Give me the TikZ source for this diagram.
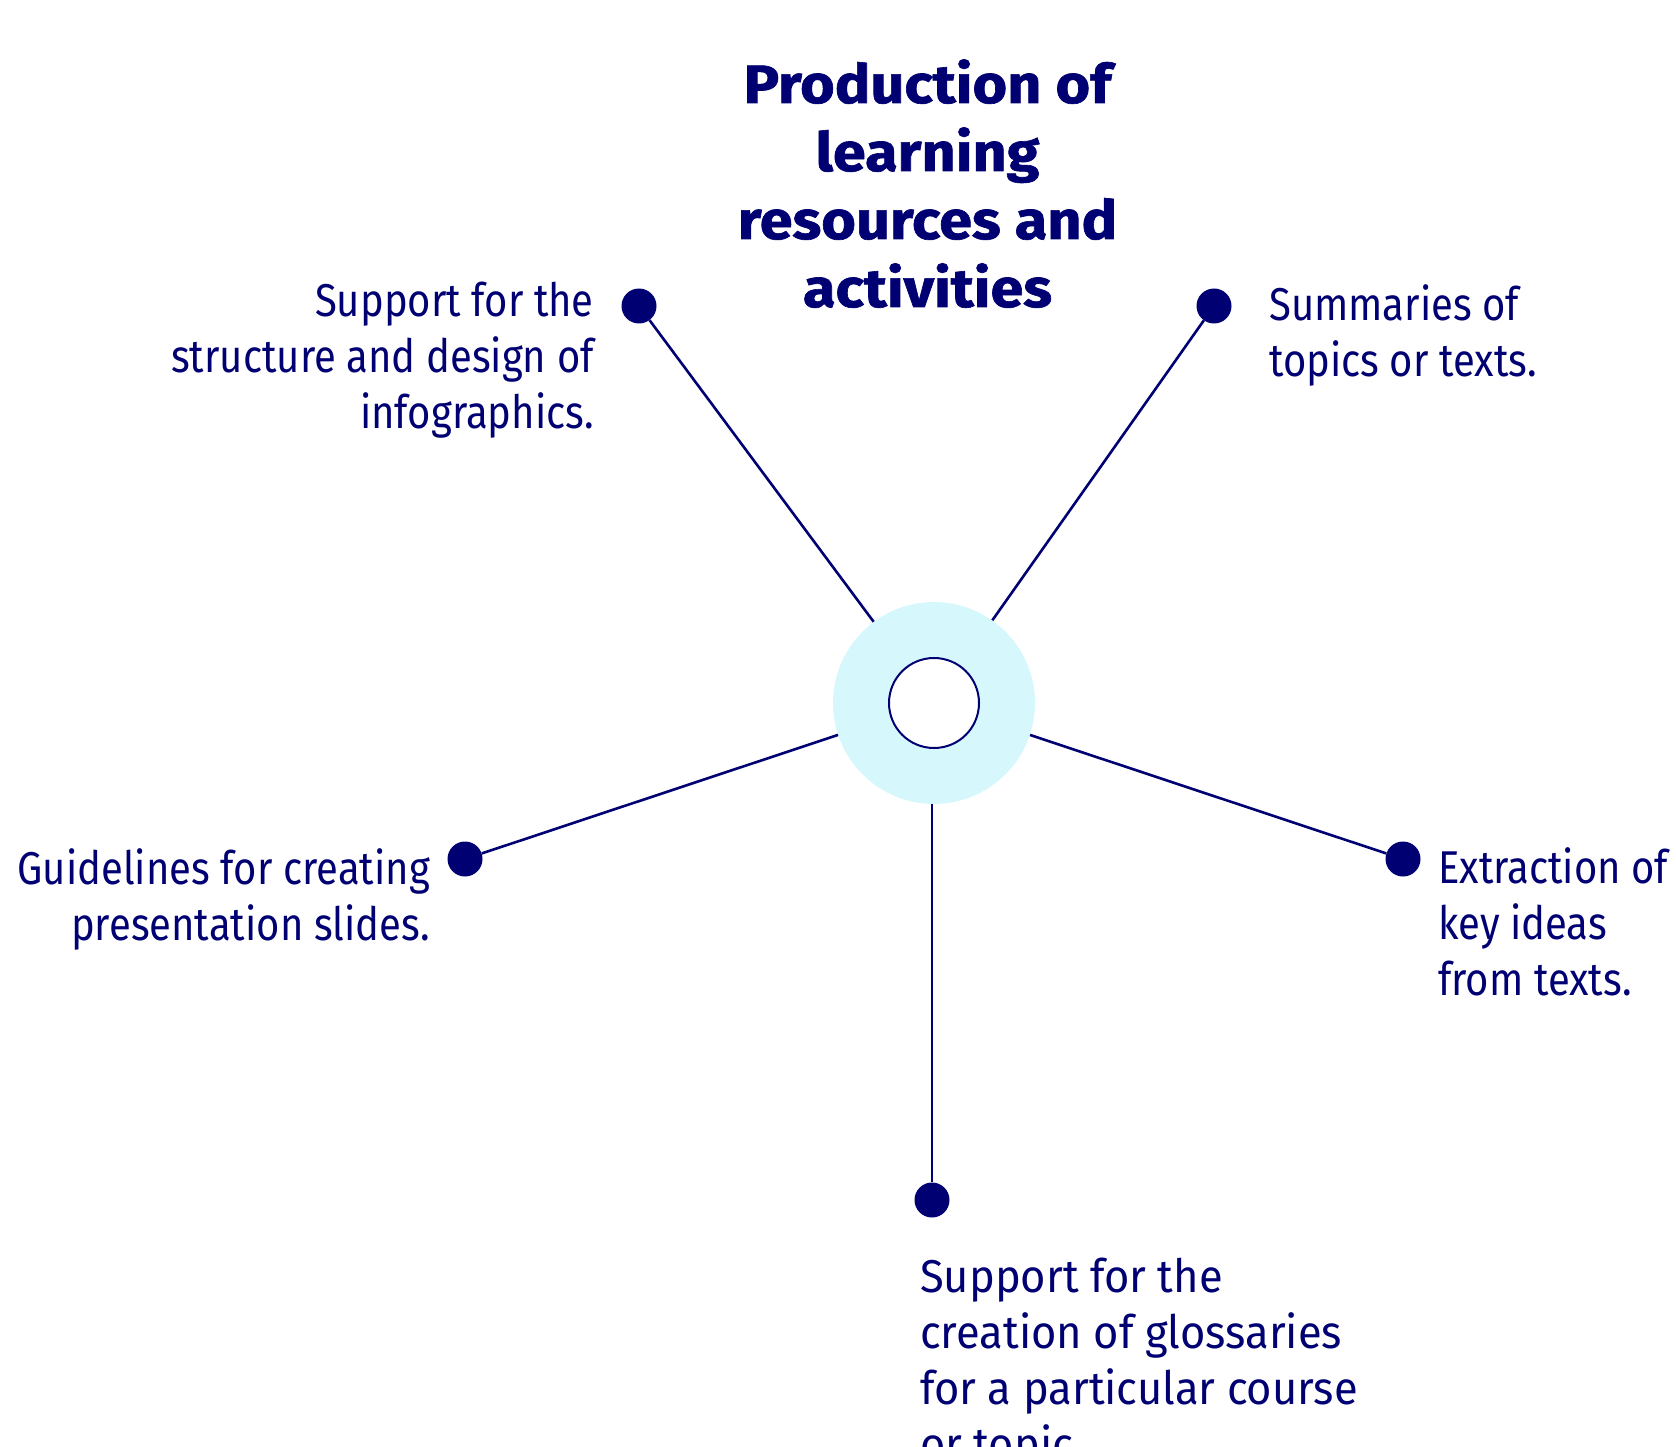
\documentclass[tikz,border=0pt]{standalone}
\usepackage{fontspec}
\setmainfont{Fira Sans}
\newfontfamily\narrowfont[FakeStretch=0.87]{Fira Sans}
\newfontfamily\widefont[FakeStretch=0.945]{Fira Sans}
\newfontfamily\titlefont[FakeStretch=1.1, FakeBold=1.2]{Fira Sans Bold}
\definecolor{navy}{RGB}{0,0,115}
\definecolor{lightcyan}{RGB}{214,248,253}
\begin{document}
\begin{tikzpicture}[x=1pt, y=-1pt]
    \tikzstyle{dot}=[circle, fill=navy, inner sep=0pt, minimum size=35pt];
    \tikzstyle{label}=[text=navy, inner sep=0pt, font=\narrowfont\fontsize{46}{56}\selectfont];
    \tikzstyle{link}=[draw=navy, line width=2.6pt];

    \useasboundingbox (0,0) rectangle (1676,1447);

    % base anchors sit on the last line
    \node (title) at (927.5, 307) [anchor=base, align=center, text=navy, inner sep=0pt,
        font=\titlefont\fontsize{54}{68}\selectfont] {Production of\\learning\\resources and\\activities};

    \node (hub) at (934, 703) [circle, fill=lightcyan, minimum size=202pt, inner sep=0pt] {};
    \node (core) at (934, 703) [circle, draw=navy, line width=2pt, fill=white, minimum size=90pt, inner sep=0pt] {};

    \node (d1) at (639, 306) [dot] {};
    \node (d2) at (1214, 306) [dot] {};
    \node (d3) at (465, 859) [dot] {};
    \node (d4) at (1403, 859) [dot] {};
    \node (d5) at (932, 1200) [dot] {};

    \node (t1) at (594, 428) [label, anchor=base east, align=right] {Support for the\\structure and design of\\infographics.};
    \node (t2) at (1269, 376) [label, anchor=base west, align=left] {Summaries of\\topics or texts.};
    \node (t3) at (430, 940) [label, anchor=base east, align=right] {Guidelines for creating\\presentation slides.};
    \node (t4) at (1438, 995) [label, anchor=base west, align=left] {Extraction of\\key ideas\\from texts.};
    \node (t5) at (920, 1460) [label, anchor=base west, align=left, font=\widefont\fontsize{46}{56}\selectfont] {Support for the\\creation of glossaries\\for a particular course\\or topic.};

    \draw (d1) edge[link] (hub);
    \draw (d2) edge[link] (hub);
    \draw (d3) edge[link] (hub);
    \draw (d4) edge[link] (hub);
    \draw (d5) edge[link] (d5 |- hub.south);

\end{tikzpicture}
\end{document}
